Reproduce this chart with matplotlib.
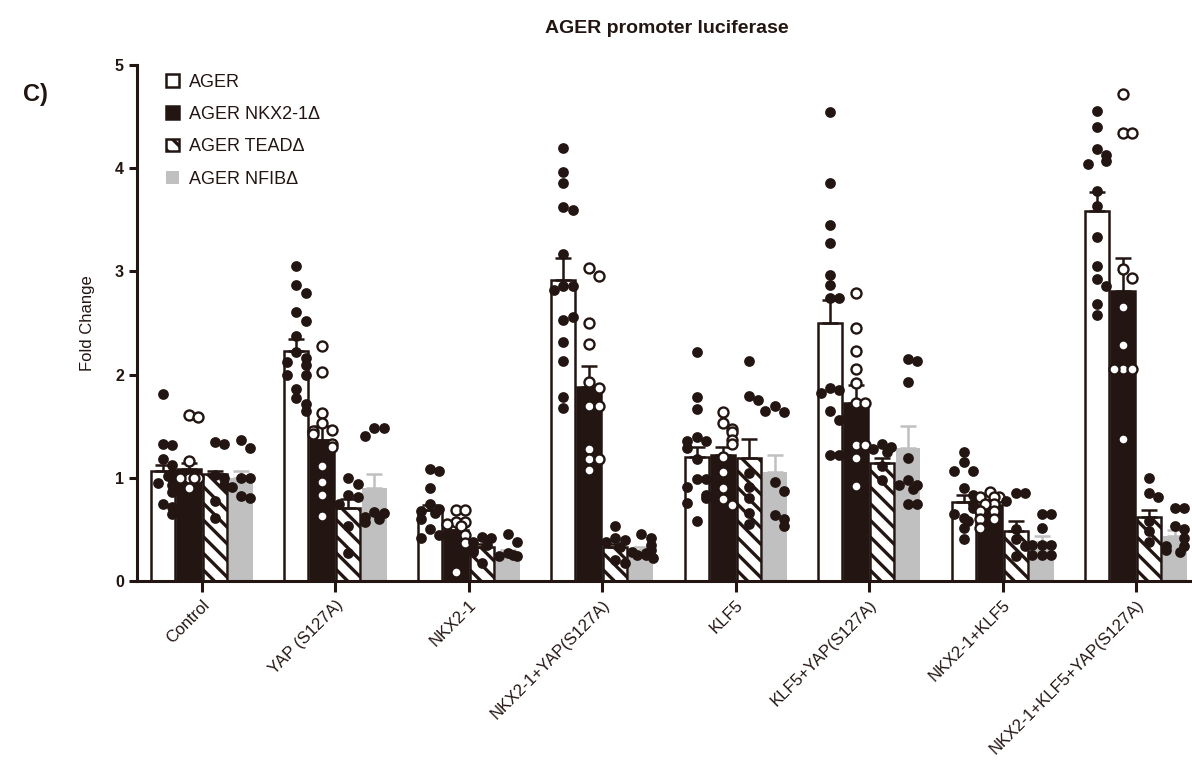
import matplotlib
matplotlib.use("Agg")
import matplotlib.pyplot as plt
from matplotlib.patches import Patch
import numpy as np

plt.rcParams['font.family'] = ['Liberation Sans', 'DejaVu Sans']
plt.rcParams['hatch.linewidth'] = 2.4

DARK = '#231612'
GREY = '#c0c0c0'
plt.rcParams['hatch.color'] = DARK

groups = ['Control', 'YAP (S127A)', 'NKX2-1', 'NKX2-1+YAP(S127A)', 'KLF5',
          'KLF5+YAP(S127A)', 'NKX2-1+KLF5', 'NKX2-1+KLF5+YAP(S127A)']
series = ['AGER', 'AGER NKX2-1Δ', 'AGER TEADΔ', 'AGER NFIBΔ']

# bar heights (mean) and SEM
ager_mean = [1.07, 2.23, 0.69, 2.92, 1.20, 2.50, 0.77, 3.59]
nkx_mean = [1.09, 1.37, 0.49, 1.88, 1.22, 1.73, 0.74, 2.81]
tead_mean = [1.04, 0.71, 0.33, 0.33, 1.19, 1.14, 0.48, 0.62]
nfib_mean = [1.00, 0.90, 0.27, 0.30, 1.06, 1.29, 0.38, 0.44]

ager_sem = [0.05, 0.12, 0.05, 0.21, 0.10, 0.22, 0.06, 0.18]
nkx_sem = [0.05, 0.13, 0.05, 0.20, 0.08, 0.17, 0.04, 0.32]
tead_sem = [0.03, 0.08, 0.03, 0.03, 0.19, 0.05, 0.10, 0.07]
nfib_sem = [0.07, 0.14, 0.03, 0.03, 0.16, 0.21, 0.06, 0.05]

# individual replicates
ager_pts = [
    [1.81, 1.33, 1.32, 1.18, 1.12, 1.05, 1.0, 0.93, 0.86, 0.75, 0.72, 0.65, 1.02, 0.95],
    [3.05, 2.87, 2.79, 2.61, 2.52, 2.37, 2.22, 2.16, 2.09, 2.12, 2.0, 2.0, 1.86, 1.77, 1.72, 1.65],
    [1.09, 1.07, 0.9, 0.75, 0.7, 0.68, 0.66, 0.6, 0.5, 0.45, 0.42],
    [4.2, 3.96, 3.86, 3.62, 3.6, 3.17, 2.86, 2.86, 2.82, 2.53, 2.56, 2.32, 2.13, 1.78, 1.68],
    [2.22, 1.78, 1.67, 1.40, 1.36, 1.36, 1.29, 1.18, 0.99, 0.99, 0.91, 0.83, 0.80, 0.76, 0.58],
    [4.55, 3.86, 3.45, 3.28, 2.97, 2.87, 2.74, 2.74, 1.87, 1.85, 1.82, 1.65, 1.56, 1.22, 1.22],
    [1.25, 1.15, 1.07, 1.07, 0.9, 0.83, 0.75, 0.71, 0.61, 0.51, 0.41, 0.65, 0.58],
    [4.56, 4.4, 4.19, 4.13, 4.07, 4.04, 3.78, 3.63, 3.33, 3.05, 2.93, 2.86, 2.68, 2.58],
]
nkx_pts = [
    [1.61, 1.59, 1.16, 1.0, 1.0, 1.0, 1.0, 0.9],
    [2.28, 2.03, 1.63, 1.53, 1.46, 1.45, 1.42, 1.33, 1.30, 1.11, 0.96, 0.83, 0.63],
    [0.69, 0.69, 0.57, 0.57, 0.55, 0.53, 0.45, 0.37, 0.09],
    [3.03, 2.96, 2.5, 2.3, 1.93, 1.87, 1.7, 1.7, 1.28, 1.18, 1.18, 1.08],
    [1.64, 1.53, 1.47, 1.44, 1.37, 1.33, 1.2, 1.06, 0.9, 0.79, 0.74],
    [2.79, 2.45, 2.23, 2.05, 1.92, 1.73, 1.73, 1.32, 1.32, 1.19, 0.92],
    [0.86, 0.81, 0.81, 0.81, 0.75, 0.75, 0.68, 0.68, 0.6, 0.6, 0.51],
    [4.72, 4.34, 4.34, 3.02, 2.94, 2.66, 2.29, 2.05, 2.05, 2.05, 1.38],
]
tead_pts = [
    [1.35, 1.33, 1.03, 1.0, 0.78, 0.61, 0.93],
    [1.0, 0.94, 0.83, 0.81, 0.75, 0.53, 0.27],
    [0.43, 0.42, 0.38, 0.35, 0.30, 0.28, 0.17],
    [0.53, 0.42, 0.40, 0.38, 0.33, 0.2, 0.17],
    [2.13, 1.79, 1.75, 1.05, 0.91, 0.8, 0.66, 0.55],
    [1.33, 1.30, 1.28, 1.25, 1.11, 0.98],
    [0.85, 0.85, 0.78, 0.5, 0.41, 0.34, 0.24],
    [1.0, 0.85, 0.81, 0.58, 0.48, 0.38],
]
nfib_pts = [
    [1.37, 1.29, 1.0, 1.0, 0.91, 0.82, 0.8],
    [1.48, 1.48, 1.41, 0.67, 0.66, 0.62, 0.60, 0.57],
    [0.46, 0.38, 0.27, 0.24, 0.24, 0.25],
    [0.46, 0.42, 0.35, 0.3, 0.28, 0.27, 0.25, 0.25, 0.22],
    [1.70, 1.64, 1.65, 0.96, 0.87, 0.64, 0.6, 0.53],
    [2.15, 2.13, 1.93, 1.19, 0.98, 0.93, 0.93, 0.89, 0.75, 0.75],
    [0.65, 0.65, 0.51, 0.35, 0.35, 0.35, 0.25, 0.25, 0.25],
    [0.71, 0.71, 0.53, 0.5, 0.42, 0.34, 0.34, 0.3, 0.28],
]

SLOTS = [0, 1, -1, 0.5, -0.5, 1.3, -1.3]


def spread(vals, dx, tol):
    # simple deterministic side-by-side placement for close values
    offs, placed = [], []
    for v in vals:
        n = sum(1 for p in placed if abs(p - v) < tol)
        offs.append(SLOTS[n % len(SLOTS)] * dx)
        placed.append(v)
    return np.array(offs)


fig = plt.figure(figsize=(11.92, 7.66), dpi=100)
ax = fig.add_axes([0.115, 0.2415, 0.885, 0.6735])

x = np.arange(len(groups))
step = 0.195
width = 0.18
styles = [
    dict(facecolor='white', edgecolor=DARK, linewidth=1.8),
    dict(facecolor=DARK, edgecolor=DARK, linewidth=1.8),
    dict(facecolor='white', edgecolor=DARK, linewidth=1.8, hatch='\\\\'),
    dict(facecolor=GREY, edgecolor=GREY, linewidth=0),
]
means = [ager_mean, nkx_mean, tead_mean, nfib_mean]
sems = [ager_sem, nkx_sem, tead_sem, nfib_sem]
pts = [ager_pts, nkx_pts, tead_pts, nfib_pts]
err_colors = [DARK, DARK, DARK, GREY]

for i in range(4):
    xs = x + (i - 1.5) * step
    ax.bar(xs, means[i], width=width, zorder=2, **styles[i])
    ax.errorbar(xs, means[i], yerr=[np.zeros(len(x)), sems[i]], fmt='none',
                ecolor=err_colors[i], elinewidth=1.8, capsize=6, capthick=1.8, zorder=3)
    for g in range(len(groups)):
        vals = np.array(pts[i][g])
        xo = xs[g] + spread(vals, 0.07, 0.09)
        if i == 1:
            ax.scatter(xo, vals, s=52, facecolor='white', edgecolor=DARK,
                       linewidth=1.7, zorder=4)
        else:
            ax.scatter(xo, vals, s=60, color=DARK, linewidth=0, zorder=4)

ax.set_xlim(-0.487, 7.42)
ax.set_ylim(0, 5)
ax.spines['top'].set_visible(False)
ax.spines['right'].set_visible(False)
for s in ['left', 'bottom']:
    ax.spines[s].set_linewidth(2.2)
    ax.spines[s].set_color(DARK)

ax.set_yticks([0, 1, 2, 3, 4, 5])
ax.set_yticklabels(['0', '1', '2', '3', '4', '5'], fontweight='bold', fontsize=11.5)
ax.set_xticks(x)
ax.set_xticklabels(groups, rotation=45, ha='right', rotation_mode='anchor', fontsize=12)
ax.tick_params(axis='both', colors=DARK, width=2.2, length=6)
ax.tick_params(axis='x', length=8, pad=4)
ax.set_ylabel('Fold Change', fontsize=12, color=DARK, labelpad=14)

handles = [Patch(**st) for st in styles]
leg = ax.legend(handles, series, loc='upper left', bbox_to_anchor=(0.012, 1.015),
                frameon=False, fontsize=13, handlelength=0.7, handleheight=0.7,
                labelspacing=0.85, handletextpad=0.6)
for t in leg.get_texts():
    t.set_color(DARK)

fig.text(0.559, 0.963, 'AGER promoter luciferase', ha='center', va='center',
         fontsize=14, fontweight='bold', color=DARK)
fig.text(0.03, 0.876, 'C)', ha='center', va='center', fontsize=17,
         fontweight='bold', color=DARK)

fig.savefig('out.png', dpi=100)
